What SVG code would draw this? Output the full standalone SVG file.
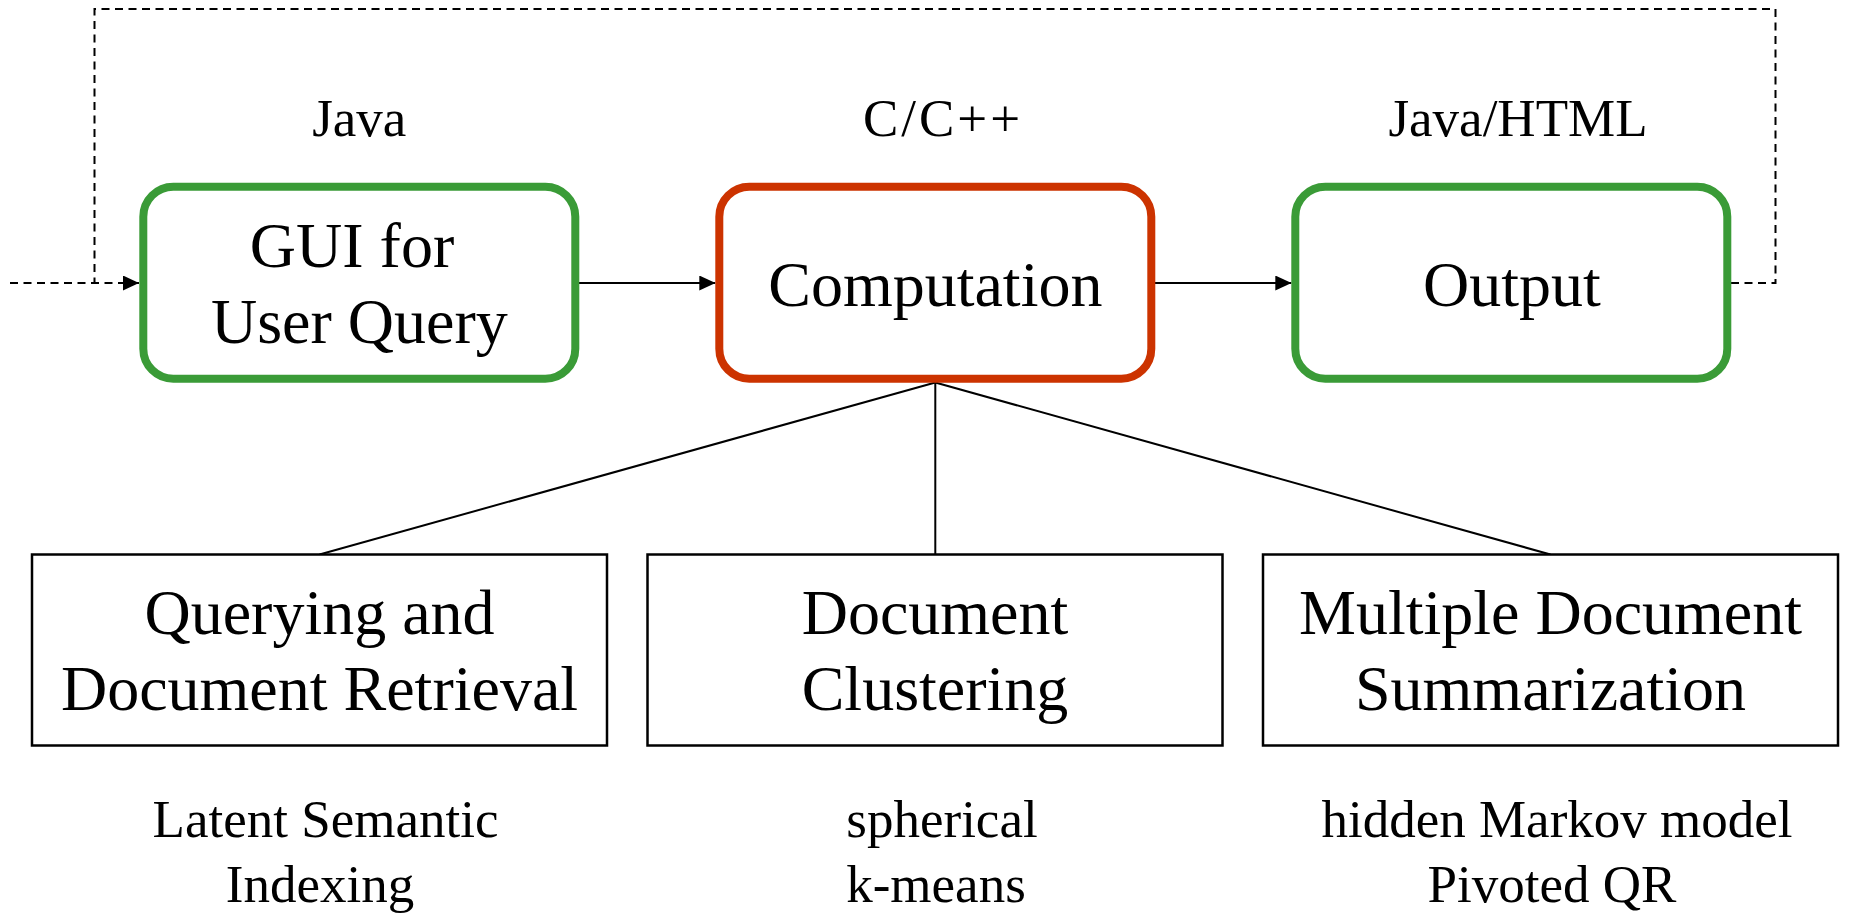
<svg xmlns="http://www.w3.org/2000/svg" width="1849" height="917" viewBox="0 0 1849 917">
<defs>
<marker id="ah" markerUnits="userSpaceOnUse" markerWidth="16" markerHeight="16" refX="16" refY="7.5" orient="auto">
<path d="M0,0 L16,7.5 L0,15 z" fill="#000"/>
</marker>
<style>
text{font-family:"Liberation Serif","Times New Roman",serif;fill:#000;text-anchor:middle}
.big{font-size:64px}
.small{font-size:53px}
.green{fill:#fff;stroke:#3a9b37;stroke-width:8}
.red{fill:#fff;stroke:#cc3300;stroke-width:8}
.plain{fill:#fff;stroke:#000;stroke-width:2.5}
.conn{fill:none;stroke:#000;stroke-width:2}
.dash{fill:none;stroke:#000;stroke-width:2;stroke-dasharray:8 5.5}
</style>
</defs>
<rect width="1849" height="917" fill="#fff"/>
<g id="connectors">
<path class="dash" d="M1731,283 H1775.5 V9 H94.5 V283"/>
<path class="dash" d="M10,283 H139" marker-end="url(#ah)"/>
<path class="conn" d="M579,283 H715.3" marker-end="url(#ah)"/>
<path class="conn" d="M1155,283 H1291.3" marker-end="url(#ah)"/>
<path class="conn" d="M935.3,382.5 L319.5,554.5"/>
<path class="conn" d="M935.3,382.5 L935.3,554.5"/>
<path class="conn" d="M935.3,382.5 L1550.5,554.5"/>
</g>
<g id="gui">
<rect class="green" x="143.3" y="186.7" width="432" height="192" rx="30" ry="30"/>
<text class="big" x="352" y="267">GUI for</text>
<text class="big" x="359.3" y="343">User Query</text>
<text class="small" x="359.3" y="136">Java</text>
</g>
<g id="computation">
<rect class="red" x="719.3" y="186.7" width="432" height="192" rx="30" ry="30"/>
<text class="big" x="935.3" y="306">Computation</text>
<text class="small" x="943" y="136" letter-spacing="3">C/C++</text>
</g>
<g id="output">
<rect class="green" x="1295.3" y="186.7" width="432" height="192" rx="30" ry="30"/>
<text class="big" x="1512" y="306">Output</text>
<text class="small" x="1518" y="136">Java/HTML</text>
</g>
<g id="querying">
<rect class="plain" x="32" y="554.5" width="575" height="191"/>
<text class="big" x="319.5" y="634">Querying and</text>
<text class="big" x="319.5" y="710">Document Retrieval</text>
<text class="small" x="325.5" y="837">Latent Semantic</text>
<text class="small" x="320" y="902">Indexing</text>
</g>
<g id="clustering">
<rect class="plain" x="647.5" y="554.5" width="575" height="191"/>
<text class="big" x="935" y="634">Document</text>
<text class="big" x="935" y="710">Clustering</text>
<text class="small" x="942" y="837">spherical</text>
<text class="small" x="936" y="902">k-means</text>
</g>
<g id="summarization">
<rect class="plain" x="1263" y="554.5" width="575" height="191"/>
<text class="big" x="1550.5" y="634">Multiple Document</text>
<text class="big" x="1550.5" y="710">Summarization</text>
<text class="small" x="1557" y="837">hidden Markov model</text>
<text class="small" x="1552" y="902">Pivoted QR</text>
</g>
</svg>
